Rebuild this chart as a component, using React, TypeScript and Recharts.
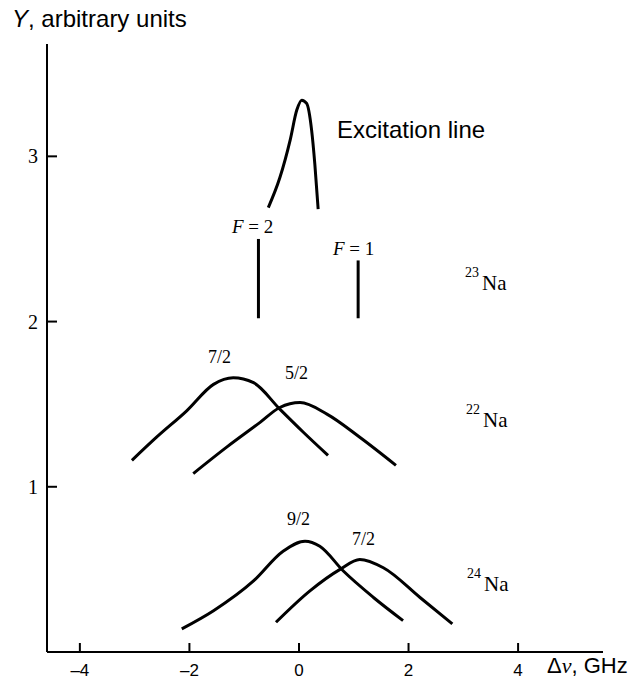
import { LineChart, Line, XAxis, YAxis } from 'recharts'

const W = 638
const H = 684
const AXIS_X = 47
const AXIS_Y = 652

const X_TICKS = [-4, -2, 0, 2, 4]
const Y_TICKS = [1, 2, 3]

// excitation (laser) line
const excitation = [
  { x: -0.56, y: 2.69 }, { x: -0.35, y: 2.87 }, { x: -0.16, y: 3.1 }, { x: -0.04, y: 3.28 },
  { x: 0.05, y: 3.34 }, { x: 0.14, y: 3.32 }, { x: 0.23, y: 3.16 }, { x: 0.29, y: 2.95 }, { x: 0.35, y: 2.68 },
]

// 23Na hyperfine components
const na23F2 = [{ x: -0.74, y: 2.02 }, { x: -0.74, y: 2.5 }]
const na23F1 = [{ x: 1.08, y: 2.02 }, { x: 1.08, y: 2.37 }]

// 22Na
const na22F72 = [
  { x: -3.05, y: 1.16 }, { x: -2.6, y: 1.3 }, { x: -2.05, y: 1.46 }, { x: -1.56, y: 1.62 },
  { x: -1.2, y: 1.66 }, { x: -0.83, y: 1.63 }, { x: -0.35, y: 1.47 }, { x: 0.08, y: 1.33 }, { x: 0.53, y: 1.19 },
]
const na22F52 = [
  { x: -1.93, y: 1.08 }, { x: -1.32, y: 1.24 }, { x: -0.71, y: 1.39 }, { x: -0.35, y: 1.48 },
  { x: 0.02, y: 1.51 }, { x: 0.51, y: 1.44 }, { x: 1.11, y: 1.3 }, { x: 1.77, y: 1.13 },
]

// 24Na
const na24F92 = [
  { x: -2.14, y: 0.14 }, { x: -1.56, y: 0.25 }, { x: -0.83, y: 0.43 }, { x: -0.29, y: 0.61 },
  { x: 0.11, y: 0.67 }, { x: 0.38, y: 0.64 }, { x: 0.81, y: 0.49 }, { x: 1.36, y: 0.33 }, { x: 1.9, y: 0.19 },
]
const na24F72 = [
  { x: -0.42, y: 0.18 }, { x: 0.2, y: 0.37 }, { x: 0.75, y: 0.5 }, { x: 1.11, y: 0.56 },
  { x: 1.54, y: 0.51 }, { x: 2.21, y: 0.33 }, { x: 2.8, y: 0.17 },
]

const SERIF = '"Liberation Serif", "Times New Roman", serif'
const SANS = '"Liberation Sans", Arial, sans-serif'

function YTick(props: any) {
  const { y, payload } = props
  return (
    <g>
      <line x1={AXIS_X} x2={AXIS_X + 10} y1={y} y2={y} stroke="#000" strokeWidth={2} />
      <text x={38} y={y + 7} textAnchor="end" fontFamily={SERIF} fontSize={20} fill="#000">
        {payload.value}
      </text>
    </g>
  )
}

function XTick(props: any) {
  const { x, payload } = props
  const v = payload.value
  return (
    <g>
      <line x1={x} x2={x} y1={AXIS_Y} y2={AXIS_Y - 9} stroke="#000" strokeWidth={2} />
      <text x={x} y={676} textAnchor="middle" fontFamily={SANS} fontSize={17} fill="#000">
        {v < 0 ? '\u2013' + Math.abs(v) : String(v)}
      </text>
    </g>
  )
}

function Isotope({ x, y, mass }: { x: number; y: number; mass: string }) {
  return (
    <g fontFamily={SERIF} fill="#000">
      <text x={x} y={y - 13} fontSize={14}>{mass}</text>
      <text x={x + 17} y={y} fontSize={21}>Na</text>
    </g>
  )
}

const series = [excitation, na23F2, na23F1, na22F72, na22F52, na24F92, na24F72]

export default function App() {
  return (
    <div style={{ position: 'absolute', left: 0, top: 0, width: W, height: H, background: '#fff' }}>
      <LineChart width={W} height={H} margin={{ top: 44, right: 35, bottom: 0, left: 0 }}>
        <XAxis
          type="number"
          dataKey="x"
          domain={[-4.6, 5.55]}
          ticks={X_TICKS}
          allowDataOverflow
          height={32}
          axisLine={{ stroke: '#000', strokeWidth: 2 }}
          tickLine={false}
          tick={<XTick />}
        />
        <YAxis
          type="number"
          dataKey="y"
          domain={[0, 3.68]}
          ticks={Y_TICKS}
          allowDataOverflow
          width={47}
          axisLine={{ stroke: '#000', strokeWidth: 2 }}
          tickLine={false}
          tick={<YTick />}
        />
        {series.map((d, i) => (
          <Line
            key={i}
            data={d}
            dataKey="y"
            type={d.length === 2 ? 'linear' : 'monotone'}
            stroke="#000"
            strokeWidth={3}
            dot={false}
            activeDot={false}
            isAnimationActive={false}
          />
        ))}
      </LineChart>
      <svg width={W} height={H} style={{ position: 'absolute', left: 0, top: 0, pointerEvents: 'none' }}>
        <text x={12} y={27} fontFamily={SANS} fontSize={24} fill="#000">
          <tspan fontStyle="italic">Y</tspan>, arbitrary units
        </text>
        <text x={337} y={138} fontFamily={SANS} fontSize={24} fill="#000">Excitation line</text>
        <g fontFamily={SERIF} fontSize={19} fill="#000">
          <text x={232} y={233}><tspan fontStyle="italic">F</tspan> = 2</text>
          <text x={333} y={255}><tspan fontStyle="italic">F</tspan> = 1</text>
        </g>
        <g fontFamily={SERIF} fontSize={18} fill="#000">
          <text x={208} y={363}>7/2</text>
          <text x={285} y={379}>5/2</text>
          <text x={287} y={525}>9/2</text>
          <text x={352} y={545}>7/2</text>
        </g>
        <Isotope x={465} y={290} mass="23" />
        <Isotope x={466} y={427} mass="22" />
        <Isotope x={467} y={591} mass="24" />
        <text x={547} y={673} fontFamily={SANS} fontSize={22} fill="#000">
          Δ<tspan fontFamily={SERIF} fontStyle="italic">ν</tspan>, GHz
        </text>
      </svg>
    </div>
  )
}
